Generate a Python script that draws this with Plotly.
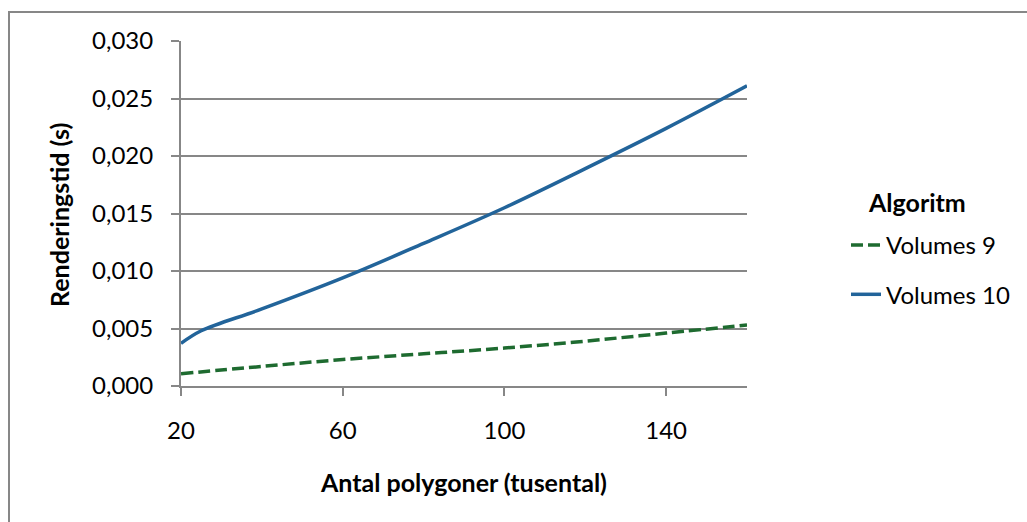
import plotly.graph_objects as go

# Data (thousands of polygons vs rendering time in seconds)
x_v10 = [20, 25, 40, 60, 80, 100, 120, 140, 160]
y_v10 = [0.0037, 0.0048, 0.0067, 0.0094, 0.0124, 0.0155, 0.0189, 0.0224, 0.0261]
x_v9 = [20, 40, 60, 80, 100, 120, 140, 160]
y_v9 = [0.00107, 0.0017, 0.0023, 0.0028, 0.0033, 0.0039, 0.0046, 0.0053]
series_names = ["Volumes 9", "Volumes 10"]
x_ticks = [20, 60, 100, 140]
y_ticks = [0.000, 0.005, 0.010, 0.015, 0.020, 0.025, 0.030]

W, H = 1027, 522
L, R, T, B = 181, 280, 41, 136
PW, PH = W - L - R, H - T - B

def px(xp):
    return (xp - L) / PW

def py(yp):
    return (H - B - yp) / PH

FONT = "Lato, 'Open Sans', sans-serif"
GRAY = "#878787"

fig = go.Figure()
fig.add_trace(go.Scatter(
    x=x_v9, y=y_v9, name=series_names[0], mode="lines",
    line=dict(color="#1E6B30", width=3.5, dash="12px,5px", shape="spline", smoothing=1),
    legendgroup="a",
))
fig.add_trace(go.Scatter(
    x=x_v10, y=y_v10, name=series_names[1], mode="lines",
    line=dict(color="#22649A", width=3.5, shape="spline", smoothing=1),
    legendgroup="b",
))

fig.update_layout(
    width=W, height=H,
    margin=dict(l=L, r=R, t=T, b=B, pad=0),
    paper_bgcolor="white", plot_bgcolor="white",
    separators=", ",
    font=dict(family=FONT, size=24, color="#000000"),
    showlegend=True,
    legend=dict(
        x=px(846), y=py(223), xanchor="left", yanchor="top",
        font=dict(size=24),
        tracegroupgap=15,
        bgcolor="rgba(0,0,0,0)",
    ),
    xaxis=dict(
        range=[20, 160], tickvals=x_ticks, ticktext=[str(v) for v in x_ticks],
        showgrid=False, zeroline=False,
        showline=True, linecolor=GRAY, linewidth=2,
        ticks="outside", ticklen=8, tickcolor=GRAY, tickwidth=2,
        tickfont=dict(size=24), ticklabelstandoff=14,
    ),
    yaxis=dict(
        range=[0, 0.030], tickvals=y_ticks, tickformat=".3f",
        showgrid=True, gridcolor=GRAY, gridwidth=2, zeroline=False,
        showline=True, linecolor=GRAY, linewidth=2,
        ticks="outside", ticklen=8, tickcolor=GRAY, tickwidth=2,
        tickfont=dict(size=24), ticklabelstandoff=13,
    ),
    annotations=[
        dict(text="<b>Renderingstid (s)</b>", x=px(59), y=py(215), xref="paper", yref="paper",
             showarrow=False, textangle=-90, xanchor="center", yanchor="middle",
             font=dict(size=25)),
        dict(text="<b>Antal polygoner (tusental)</b>", x=px(463), y=py(482), xref="paper", yref="paper",
             showarrow=False, xanchor="center", yanchor="middle", font=dict(size=25)),
        dict(text="<b>Algoritm</b>", x=px(917), y=py(202), xref="paper", yref="paper",
             showarrow=False, xanchor="center", yanchor="middle", font=dict(size=25)),
    ],
    shapes=[
        dict(type="rect", xref="paper", yref="paper",
             x0=px(9), x1=px(1040), y0=py(540), y1=py(12),
             line=dict(color=GRAY, width=2), fillcolor="rgba(0,0,0,0)", layer="below"),
    ],
)

fig.write_html("out.html")
